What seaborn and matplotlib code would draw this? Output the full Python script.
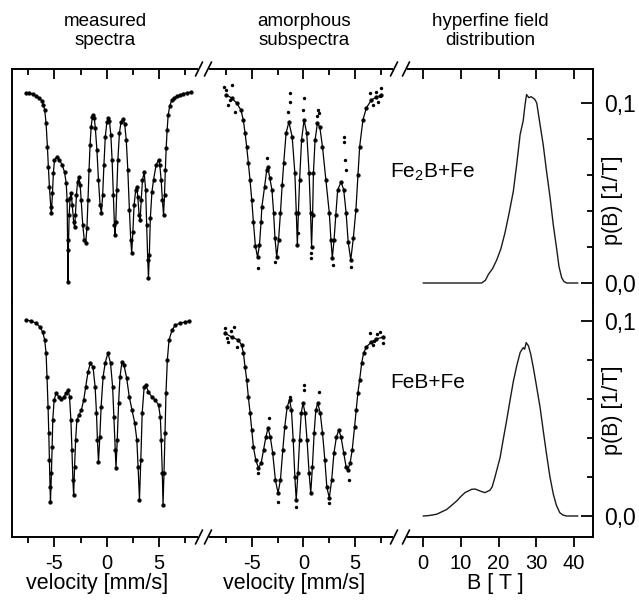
import matplotlib
matplotlib.use('Agg')
import matplotlib.pyplot as plt
from matplotlib.lines import Line2D
import seaborn as sns

# ============================================================================
# DATA  (velocity in mm/s, relative transmission in %, B in T, p(B) in 1/T)
# ============================================================================
# measured spectrum, Fe2B+Fe sample
meas_fe2b_v = [-7.72, -7.40, -7.09, -6.76, -6.44, -6.18, -6.06, -5.93, -5.80, -5.67,
               -5.58, -5.48, -5.35, -5.29, -5.19, -5.10, -5.00, -4.78, -4.52, -4.26,
               -4.04, -3.88, -3.79, -3.75, -3.72, -3.67, -3.60, -3.50, -3.40, -3.30,
               -3.17, -3.08, -3.00, -2.90, -2.80, -2.68, -2.55, -2.45, -2.30, -2.15,
               -2.02, -1.90, -1.80, -1.70, -1.60, -1.50, -1.38, -1.30, -1.20, -1.10,
               -0.95, -0.80, -0.65, -0.52, -0.40, -0.28, -0.15, 0.00, 0.13, 0.25,
               0.38, 0.50, 0.62, 0.72, 0.77, 0.85, 0.95, 1.05, 1.20, 1.35,
               1.55, 1.70, 1.85, 2.00, 2.15, 2.28, 2.37, 2.48, 2.60, 2.75,
               2.86, 2.95, 3.08, 3.17, 3.28, 3.40, 3.56, 3.70, 3.80, 3.90,
               3.97, 4.05, 4.15, 4.30, 4.45, 4.70, 4.93, 5.05, 5.18, 5.30,
               5.41, 5.50, 5.58, 5.66, 5.75, 5.85, 6.00, 6.20, 6.40, 6.70,
               7.00, 7.30, 7.66, 7.98]
meas_fe2b_T = [99.9, 99.9, 99.8, 99.6, 99.4, 99.1, 98.7, 98.2, 96.9, 94.5,
               92.5, 90.5, 88.5, 87.9, 89.9, 91.9, 93.2, 93.5, 93.2, 92.7,
               92.0, 90.9, 89.2, 85.2, 81.0, 84.2, 87.7, 89.4, 89.9, 88.7,
               87.0, 86.5, 87.7, 89.7, 91.0, 91.5, 90.7, 89.2, 86.7, 85.2,
               84.9, 86.4, 89.2, 92.2, 94.7, 96.5, 97.5, 97.7, 97.4, 96.4,
               94.2, 91.2, 88.7, 87.9, 89.7, 92.7, 95.5, 97.0, 97.4, 97.1,
               95.7, 93.2, 89.7, 86.7, 85.7, 87.0, 90.2, 93.2, 95.9, 97.0,
               97.3, 96.8, 95.2, 92.2, 88.2, 85.2, 83.9, 86.0, 88.7, 90.2,
               90.5, 89.5, 87.7, 87.2, 89.2, 91.2, 92.0, 90.2, 86.7, 83.2,
               81.4, 83.7, 87.4, 90.0, 91.2, 92.7, 93.2, 92.7, 91.2, 89.2,
               87.7, 89.7, 92.2, 94.4, 96.2, 97.7, 98.6, 99.2, 99.4, 99.6,
               99.7, 99.85, 99.9, 100.0]

# amorphous subspectrum, Fe2B+Fe sample (fit curve)
sub_fe2b_v = [-7.45, -6.96, -6.47, -6.05, -5.82, -5.65, -5.49, -5.33, -5.17, -5.00,
              -4.84, -4.65, -4.44, -4.25, -4.10, -4.02, -3.76, -3.55, -3.45, -3.25,
              -3.04, -2.88, -2.75, -2.58, -2.40, -2.22, -2.05, -1.90, -1.67, -1.40,
              -1.08, -0.82, -0.68, -0.58, -0.48, -0.36, -0.17, 0.07, 0.33, 0.56,
              0.70, 0.80, 0.90, 0.98, 1.14, 1.37, 1.60, 1.86, 2.19, 2.52,
              2.68, 2.81, 2.98, 3.15, 3.33, 3.66, 3.92, 4.15, 4.35, 4.60,
              4.85, 5.10, 5.30, 5.46, 5.78, 6.11, 6.60, 7.09, 7.58]
sub_fe2b_T = [99.7, 99.4, 98.9, 98.2, 97.2, 95.9, 94.5, 92.9, 91.2, 89.2,
              87.0, 84.6, 83.5, 84.7, 87.0, 88.5, 90.5, 92.2, 92.5, 91.4,
              90.2, 87.9, 85.4, 83.5, 85.2, 87.9, 90.7, 92.9, 95.9, 97.0,
              95.5, 91.9, 87.9, 84.7, 87.9, 91.2, 95.2, 97.2, 95.9, 91.9,
              87.9, 84.5, 87.7, 91.9, 95.2, 96.9, 96.5, 94.5, 91.2, 87.9,
              85.2, 83.4, 85.2, 87.7, 90.2, 91.0, 90.2, 87.9, 85.0, 83.2,
              85.4, 88.2, 91.7, 94.5, 97.2, 98.4, 99.2, 99.5, 99.7]
# scattered measured points lying off the fit
sub_fe2b_pts_v = [-1.34, -1.25, 0.07, 1.47, 1.54, 3.99, 3.99, 4.09, 4.15, -3.53,
                  0.78, 0.78, -4.38, 4.60, -0.56, -7.68, -6.96, -7.28, -6.64, 6.44,
                  7.58, 6.76, 7.25, -7.50, -7.10, 7.00, 7.40, -2.70, 2.85, -1.45,
                  1.30, 0.00]
sub_fe2b_pts_T = [99.9, 99.0, 99.4, 98.2, 97.9, 95.5, 95.0, 93.2, 92.2, 93.4,
                  83.9, 83.4, 82.4, 82.5, 85.9, 100.5, 100.7, 98.7, 98.0, 99.9,
                  100.4, 98.7, 99.0, 100.2, 99.2, 100.0, 99.6, 83.0, 82.7, 98.0,
                  97.6, 98.2]

# measured spectrum, FeB+Fe sample
meas_feb_v = [-7.72, -7.24, -6.76, -6.38, -6.12, -5.93, -5.80, -5.71, -5.61, -5.54,
              -5.48, -5.42, -5.38, -5.29, -5.22, -5.16, -5.03, -4.84, -4.58, -4.36,
              -4.10, -3.88, -3.69, -3.56, -3.43, -3.33, -3.24, -3.17, -3.08, -2.98,
              -2.86, -2.66, -2.43, -2.21, -2.02, -1.80, -1.57, -1.32, -1.12, -0.99,
              -0.90, -0.80, -0.67, -0.55, -0.36, -0.16, 0.10, 0.35, 0.55, 0.67,
              0.80, 0.87, 0.99, 1.12, 1.25, 1.44, 1.63, 1.89, 2.14, 2.40,
              2.66, 2.86, 2.98, 3.11, 3.24, 3.37, 3.56, 3.72, 3.97, 4.30,
              4.62, 4.93, 5.10, 5.19, 5.29, 5.36, 5.45, 5.55, 5.64, 5.77,
              5.93, 6.22, 6.54, 7.02, 7.50, 7.82]
meas_feb_T = [100.0, 99.9, 99.7, 99.3, 98.8, 98.0, 96.7, 94.3, 91.3, 88.7,
              86.0, 83.3, 81.8, 84.7, 87.3, 90.0, 92.0, 92.7, 92.3, 92.1,
              92.3, 92.7, 93.0, 92.3, 90.0, 87.0, 84.0, 82.5, 85.3, 88.0,
              90.0, 90.5, 91.0, 92.0, 93.3, 94.8, 95.7, 95.3, 93.3, 90.7,
              88.0, 85.8, 88.3, 91.3, 94.3, 95.7, 96.7, 95.7, 93.3, 90.3,
              87.0, 85.2, 88.0, 91.7, 94.3, 95.8, 95.5, 94.2, 92.3, 91.0,
              89.7, 88.0, 85.3, 82.0, 86.0, 90.7, 93.3, 93.5, 92.8, 92.3,
              92.0, 91.5, 90.3, 88.0, 84.7, 81.5, 84.7, 88.7, 92.7, 96.0,
              98.0, 99.0, 99.5, 99.7, 99.8, 99.9]

# amorphous subspectrum, FeB+Fe sample (fit curve)
sub_feb_v = [-7.62, -6.96, -6.30, -5.98, -5.81, -5.65, -5.49, -5.33, -5.16, -5.00,
             -4.84, -4.61, -4.35, -4.09, -3.86, -3.63, -3.43, -3.20, -2.97, -2.71,
             -2.45, -2.22, -1.99, -1.80, -1.57, -1.34, -1.15, -0.98, -0.82, -0.69,
             -0.52, -0.36, -0.20, -0.03, 0.16, 0.36, 0.56, 0.72, 0.88, 1.05,
             1.21, 1.40, 1.64, 1.86, 2.09, 2.28, 2.52, 2.75, 2.97, 3.21,
             3.43, 3.66, 3.92, 4.15, 4.31, 4.54, 4.74, 4.97, 5.13, 5.29,
             5.46, 5.66, 5.85, 6.11, 6.60, 7.09, 7.75]
sub_feb_T = [100.4, 100.0, 99.7, 99.2, 98.4, 97.0, 95.7, 94.0, 92.4, 90.7,
             89.0, 87.7, 86.9, 87.4, 88.7, 90.0, 90.9, 90.0, 88.4, 85.7,
             84.4, 85.7, 88.7, 91.0, 93.0, 93.7, 92.7, 89.7, 86.0, 83.7,
             86.4, 89.7, 92.4, 93.4, 92.4, 89.7, 86.4, 84.4, 87.0, 90.4,
             92.7, 93.4, 92.4, 90.4, 87.7, 85.0, 83.9, 85.7, 88.4, 90.0,
             90.7, 90.0, 88.4, 87.0, 86.7, 87.4, 88.7, 91.0, 92.7, 94.4,
             95.7, 97.4, 98.4, 99.0, 99.5, 99.8, 100.0]
sub_feb_pts_v = [0.07, 0.07, 1.54, -3.36, -0.69, -2.45, 2.52, 4.41, -4.35, -7.62,
                 -6.70, -7.28, -6.47, 6.44, 7.42, 6.76, 7.75, -1.30, -7.00, -7.40,
                 7.10, 6.90]
sub_feb_pts_T = [95.2, 94.7, 94.5, 91.9, 83.0, 83.5, 83.4, 85.7, 86.4, 100.9,
                 101.0, 99.5, 99.0, 100.4, 100.5, 99.2, 99.4, 94.0, 100.6, 99.9,
                 100.3, 99.6]

# hyperfine field distributions
pb_fe2b_B = [0.0, 15.5, 16.5, 17.3, 18.4, 19.5, 20.6, 21.7, 22.8, 23.9,
             24.8, 25.7, 26.5, 27.0, 27.4, 28.0, 28.6, 29.2, 29.6, 30.1,
             30.9, 31.8, 32.7, 33.6, 34.5, 35.4, 36.0, 36.7, 37.3, 38.0, 41.0]
pb_fe2b_p = [0.0, 0.0, 0.0015, 0.0048, 0.008, 0.0128, 0.019, 0.028, 0.039, 0.051,
             0.066, 0.0825, 0.090, 0.099, 0.1047, 0.1030, 0.1035, 0.1027, 0.102, 0.100,
             0.089, 0.077, 0.062, 0.048, 0.032, 0.0186, 0.009, 0.003, 0.0008, 0.0, 0.0]

pb_feb_B = [0.0, 1.5, 3.6, 6.3, 8.9, 10.0, 11.1, 12.9, 13.8, 14.6,
            15.5, 16.4, 17.7, 18.3, 19.0, 20.4, 21.2, 22.1, 23.0, 23.9,
            24.8, 25.7, 26.5, 26.9, 27.3, 27.9, 28.5, 29.2, 30.0, 31.0,
            31.8, 32.7, 33.6, 34.5, 35.3, 36.2, 37.0, 38.0, 41.0]
pb_feb_p = [0.0, 0.0002, 0.0009, 0.0034, 0.0077, 0.0100, 0.0120, 0.0137, 0.0138, 0.0132,
            0.0125, 0.0120, 0.0132, 0.0150, 0.0197, 0.0300, 0.0390, 0.0487, 0.0590, 0.0690,
            0.0770, 0.0838, 0.0863, 0.0855, 0.0889, 0.0872, 0.0830, 0.0760, 0.0670, 0.0555,
            0.0440, 0.0316, 0.0200, 0.0111, 0.0055, 0.0017, 0.0005, 0.0, 0.0]

col_titles = ['measured\nspectra', 'amorphous\nsubspectra', 'hyperfine field\ndistribution']
sample_labels = ['Fe$_2$B+Fe', 'FeB+Fe']
pb_ticks = [0.0, 0.1]
pb_ticklabels = ['0,0', '0,1']

# ============================================================================
# FIGURE
# ============================================================================
sns.set_theme(style='white')
plt.rcParams['font.family'] = ['Liberation Sans', 'DejaVu Sans']
plt.rcParams['mathtext.default'] = 'regular'
plt.rcParams['axes.unicode_minus'] = False
for key in ['text.color', 'axes.labelcolor', 'xtick.color', 'ytick.color',
            'xtick.labelcolor', 'ytick.labelcolor']:
    plt.rcParams[key] = 'black'

W, H = 639, 609
fig = plt.figure(figsize=(W / 100, H / 100), dpi=100)


def box(x0, x1, y0, y1):
    return [x0 / W, 1 - y1 / H, (x1 - x0) / W, (y1 - y0) / H]


cols = [(12, 197), (210, 392), (408, 593)]
rows = [(69, 302), (302, 537)]
axs = [[fig.add_axes(box(*cols[c], *rows[r])) for c in range(3)] for r in range(2)]

LW_FRAME = 1.4


def frame(ax, r, c):
    ax.set_facecolor('none')
    for s in ax.spines.values():
        s.set_visible(False)
        s.set_linewidth(LW_FRAME)
        s.set_color('black')
    ax.spines['top' if r == 0 else 'bottom'].set_visible(True)
    if c == 0:
        ax.spines['left'].set_visible(True)
    if c == 2:
        ax.spines['right'].set_visible(True)
    if r == 0:
        ax.tick_params(axis='x', which='both', bottom=False, top=True,
                       labelbottom=False, direction='in')
    else:
        ax.tick_params(axis='x', which='both', bottom=True, top=False,
                       direction='out', labelsize=14.5, pad=5)
    ax.tick_params(axis='x', which='major', length=7, width=1.3, color='black')
    ax.tick_params(axis='x', which='minor', length=4.5, width=1.3, color='black')
    ax.tick_params(axis='y', which='both', left=False, right=False, labelleft=False)


def spectrum(ax, v, T, pts_v=None, pts_T=None):
    sns.lineplot(x=v, y=T, ax=ax, color='black', lw=0.9, estimator=None, sort=False,
                 marker='o', markersize=2.7, markeredgecolor='black',
                 markeredgewidth=0.3)
    if pts_v is not None:
        sns.scatterplot(x=pts_v, y=pts_T, ax=ax, color='black', s=6, linewidth=0)
    ax.set_xlim(-9.05, 8.6)
    ax.set_xticks([-5, 0, 5])
    ax.set_xticks([-7.5, -2.5, 2.5, 7.5], minor=True)
    ax.set_yticks([])


spectrum(axs[0][0], meas_fe2b_v, meas_fe2b_T)
spectrum(axs[0][1], sub_fe2b_v, sub_fe2b_T, sub_fe2b_pts_v, sub_fe2b_pts_T)
spectrum(axs[1][0], meas_feb_v, meas_feb_T)
spectrum(axs[1][1], sub_feb_v, sub_feb_T, sub_feb_pts_v, sub_feb_pts_T)
axs[0][0].set_ylim(79.0, 102.3)
axs[0][1].set_ylim(79.0, 102.3)
axs[1][0].set_ylim(78.3, 101.8)
axs[1][1].set_ylim(80.0, 103.5)

for r, (B, p) in enumerate([(pb_fe2b_B, pb_fe2b_p), (pb_feb_B, pb_feb_p)]):
    ax = axs[r][2]
    sns.lineplot(x=B, y=p, ax=ax, color='#1a1a1a', lw=1.0, estimator=None, sort=False)
    ax.set_xlim(-4, 45)
    ax.set_xticks([0, 10, 20, 30, 40])
axs[0][2].set_ylim(-0.01056, 0.1189)
axs[1][2].set_ylim(-0.01077, 0.1097)

for r in range(2):
    for c in range(3):
        frame(axs[r][c], r, c)

for r, ylab in enumerate([0.438, 0.540]):
    ax = axs[r][2]
    ax.yaxis.tick_right()
    ax.set_yticks(pb_ticks)
    ax.set_yticklabels(pb_ticklabels)
    ax.set_yticks([0.02, 0.04, 0.06, 0.08], minor=True)
    ax.tick_params(axis='y', which='both', right=True, left=False, labelright=True,
                   labelleft=False, direction='in', labelsize=16.5, pad=8, color='black')
    ax.tick_params(axis='y', which='major', length=9, width=1.3)
    ax.tick_params(axis='y', which='minor', length=4, width=1.3)
    ax.set_ylabel('')
    ax.text(1.104, ylab, 'p(B) [1/T]', rotation=90, transform=ax.transAxes,
            ha='center', va='center', fontsize=15.5)

for c, (lab, xc) in enumerate([('velocity [mm/s]', 0.459), ('velocity [mm/s]', 0.462),
                               ('B [ T ]', 0.47)]):
    ax = axs[1][c]
    ax.set_xlabel(lab, fontsize=15.5)
    ax.xaxis.set_label_coords(xc, -0.153)
for c in range(3):
    axs[0][c].set_xlabel('')

# column titles
for title, xc in zip(col_titles, [105, 304, 490]):
    fig.text(xc / W, 1 - 31 / H, title, ha='center', va='center',
             fontsize=13.5, linespacing=1.15)

# sample labels
fig.text(390 / W, 1 - 178 / H, sample_labels[0], ha='left', va='baseline', fontsize=15)
fig.text(390 / W, 1 - 388 / H, sample_labels[1], ha='left', va='baseline', fontsize=15)

# axis break marks
for gx in [199, 208, 394, 406]:
    for gy in [69, 537]:
        fig.add_artist(Line2D([(gx - 3.5) / W, (gx + 3.5) / W],
                              [1 - (gy + 7) / H, 1 - (gy - 7) / H],
                              transform=fig.transFigure, color='black', lw=1.2))

fig.savefig('out.png', dpi=100)
